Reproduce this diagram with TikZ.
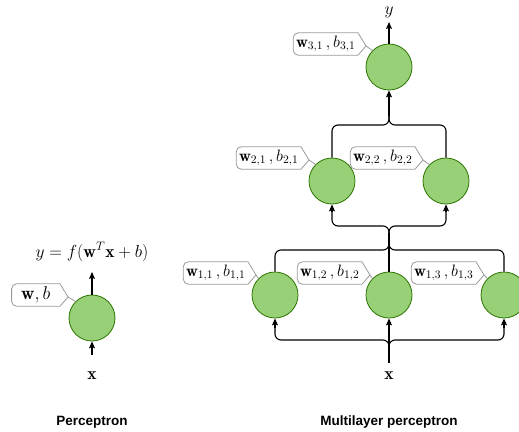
\RequirePackage{fix-cm}
\documentclass[tikz,border=0pt]{standalone}
\usepackage{amsmath}
\usepackage{fontspec}
\newfontfamily\titlefont{Liberation Sans}
\usetikzlibrary{arrows.meta,calc}
\definecolor{nfill}{HTML}{97D077}
\definecolor{ndraw}{HTML}{2D7600}
\definecolor{lgray}{HTML}{9A9A9A}
\tikzset{
  neuron/.style={circle, fill=nfill, draw=ndraw, line width=0.8pt, minimum size=46pt, inner sep=0pt},
  conn/.style={line width=1.1pt, rounded corners=6pt},
  arr/.style={line width=1.1pt, -{Stealth[length=7pt,width=6pt,inset=1.5pt]}},
  lbltext/.style={inner xsep=2.5pt, inner ysep=0pt, minimum height=22pt, anchor=east, font=\fontsize{16.5}{19}\selectfont},
  lblline/.style={draw=lgray, line width=0.8pt},
  mtext/.style={font=\fontsize{17.5}{20}\selectfont, inner sep=0pt},
  title/.style={font=\titlefont\bfseries\fontsize{13.5}{16}\selectfont, inner sep=0pt}
}
\newcommand\wlabel[5][]{%
  \node[lbltext,#1] (#2) at (#3) {#4};
  \draw[lblline] (#2.north east) -- ($(#2.east)+(8,2)$) coordinate (#2tip) -- (#2.south east)
     [rounded corners=5pt] -- (#2.south west) -- (#2.north west) [sharp corners] -- cycle;
  \draw[lblline] (#2tip) -- (#5.135);
}
\begin{document}
\begin{tikzpicture}[x=1pt,y=-1pt]
\useasboundingbox (0,0) rectangle (519,431);
\clip (0,0) rectangle (519,431);

% ---------- Perceptron ----------
\node[neuron] (p) at (92,318) {};
\node[mtext] (py) at (92,252) {$y = f(\mathbf{w}^T\mathbf{x} + b)$};
\node[mtext] (px) at (92,376) {$\mathbf{x}$};
\coordinate (pyend) at (92,272);
\coordinate (pxstart) at (92,355);
\draw[arr] (p.north) -- (pyend);
\draw[arr] (pxstart) -- (p.south);
\wlabel[minimum width=48pt, font=\fontsize{18.5}{20}\selectfont]{lp}{60,295}{$\mathbf{w}, b$}{p}
\node[title] (ptitle) at (92,422) {Perceptron};

% ---------- MLP ----------
\node[neuron] (n31) at (389,67) {};
\node[neuron] (n21) at (332,181) {};
\node[neuron] (n22) at (446,181) {};
\node[neuron] (n11) at (275,295) {};
\node[neuron] (n12) at (389,295) {};
\node[neuron] (n13) at (504,295) {};

\node[mtext] (my) at (389,12) {$y$};
\node[mtext] (mx) at (389,376) {$\mathbf{x}$};
\coordinate (myend) at (389,22);
\coordinate (mxstart) at (389,363);

\draw[arr] (n31.north) -- (myend);

% layer 2 -> layer 3
\coordinate (j3) at (389,116);
\draw[conn] (n21.north) -- (332,125) -- (389,125) -- (j3);
\draw[conn] (n22.north) -- (446,125) -- (389,125) -- (j3);
\draw[arr] (j3) -- (n31.south);

% layer 1 -> layer 2
\coordinate (j2a) at (389,243);
\coordinate (j2b) at (389,233);
\draw[conn] (n11.north) -- (275,250) -- (389,250) -- (j2a);
\draw[conn] (n13.north) -- (504,250) -- (389,250) -- (j2a);
\draw[conn] (n12.north) -- (j2a) -- (j2b);
\draw[conn] (j2b) -- (389,226) -- (332,226) -- (332,210);
\draw[conn] (j2b) -- (389,226) -- (446,226) -- (446,210);
\draw[arr] (332,212) -- (n21.south);
\draw[arr] (446,212) -- (n22.south);

% input -> layer 1
\coordinate (j1) at (389,347);
\draw[conn] (mxstart) -- (j1);
\draw[conn] (j1) -- (389,340) -- (275,340) -- (275,326);
\draw[conn] (j1) -- (389,340) -- (504,340) -- (504,326);
\draw[arr] (275,328) -- (n11.south);
\draw[arr] (504,328) -- (n13.south);
\draw[arr] (j1) -- (n12.south);

\wlabel{l31}{358,44}{$\mathbf{w}_{3,1}\,, b_{3,1}$}{n31}
\wlabel{l21}{301,158}{$\mathbf{w}_{2,1}\,, b_{2,1}$}{n21}
\wlabel{l22}{415,158}{$\mathbf{w}_{2,2}\,, b_{2,2}$}{n22}
\wlabel{l11}{248,273}{$\mathbf{w}_{1,1}\,, b_{1,1}$}{n11}
\wlabel{l12}{362,273}{$\mathbf{w}_{1,2}\,, b_{1,2}$}{n12}
\wlabel{l13}{476,273}{$\mathbf{w}_{1,3}\,, b_{1,3}$}{n13}

\node[title] (mtitle) at (389,422) {Multilayer perceptron};
\end{tikzpicture}
\end{document}
